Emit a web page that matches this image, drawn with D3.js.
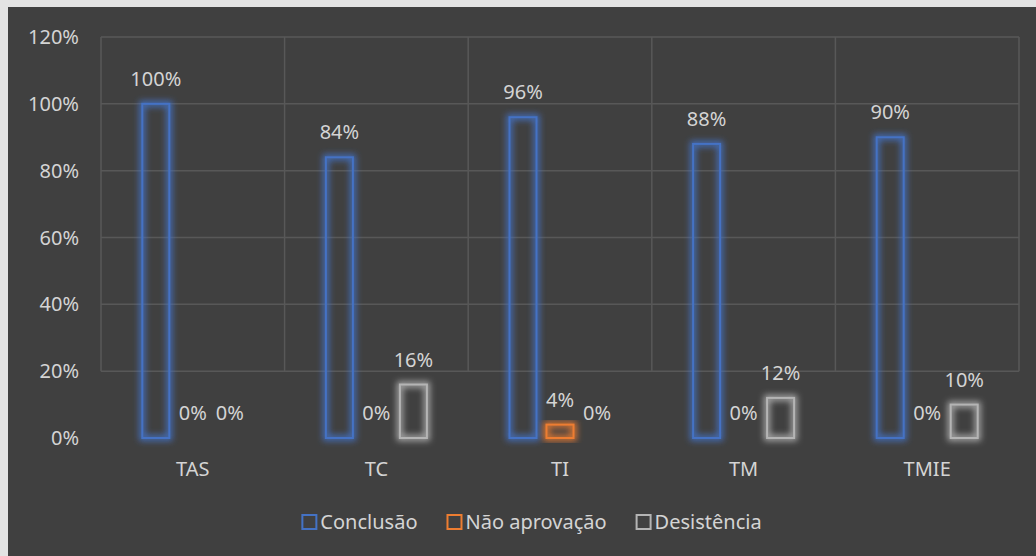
<!DOCTYPE html>
<html>
<head>
<meta charset="utf-8">
<script src="https://cdn.jsdelivr.net/npm/d3@7"></script>
<style>
  body { margin: 0; background: #e3e3e3; }
  svg { display: block; }
  text { font-family: "Noto Sans", "Open Sans", sans-serif; fill: #d4d4d4; }
</style>
</head>
<body>
<svg id="chart" width="1036" height="556"></svg>
<script>
const categories = ["TAS", "TC", "TI", "TM", "TMIE"];
const seriesNames = ["Conclusão", "Não aprovação", "Desistência"];
const conclusao = [100, 84, 96, 88, 90];
const naoAprovacao = [0, 0, 4, 0, 0];
const desistencia = [0, 16, 0, 12, 10];
const yTicks = [0, 20, 40, 60, 80, 100, 120];

const seriesValues = [conclusao, naoAprovacao, desistencia];
const colors = ["#4472c4", "#ed7d31", "#b4b4b4"];

const W = 1036, H = 556;
const margin = { top: 37, right: 17, bottom: 118, left: 101 };
const fontSize = 20;

const svg = d3.select("#chart");

// dark chart area (light strip left/top shows through)
svg.append("rect")
    .attr("x", 8).attr("y", 7)
    .attr("width", W - 8).attr("height", H - 7)
    .attr("fill", "#404040");

// soft glow round the bar outlines
const defs = svg.append("defs");
const glow = defs.append("filter")
    .attr("id", "glow")
    .attr("x", "-80%").attr("y", "-30%")
    .attr("width", "260%").attr("height", "160%");
glow.append("feMorphology")
    .attr("in", "SourceGraphic")
    .attr("operator", "dilate")
    .attr("radius", 2)
    .attr("result", "thick");
glow.append("feGaussianBlur")
    .attr("in", "thick")
    .attr("stdDeviation", 3)
    .attr("result", "blur");
glow.append("feComponentTransfer")
    .attr("in", "blur").attr("result", "soft")
    .append("feFuncA").attr("type", "linear").attr("slope", 0.9);
const merge = glow.append("feMerge");
merge.append("feMergeNode").attr("in", "soft");
merge.append("feMergeNode").attr("in", "SourceGraphic");

const x0 = d3.scaleBand()
    .domain(categories)
    .range([margin.left, W - margin.right]);

const groupWidth = 101;
const x1 = d3.scaleBand()
    .domain(seriesNames)
    .range([(x0.bandwidth() - groupWidth) / 2, (x0.bandwidth() + groupWidth) / 2])
    .paddingInner(0.27);

const y = d3.scaleLinear()
    .domain([0, 120])
    .range([438, margin.top]);

// gridlines
const grid = svg.append("g").attr("stroke", "#585858").attr("stroke-width", 1.5);
grid.selectAll("line.h")
    .data(yTicks.filter(d => d > 0))
    .join("line")
    .attr("x1", margin.left).attr("x2", W - margin.right)
    .attr("y1", d => y(d)).attr("y2", d => y(d));

const vLines = categories.map(c => x0(c)).concat([W - margin.right]);
grid.selectAll("line.v")
    .data(vLines)
    .join("line")
    .attr("x1", d => d).attr("x2", d => d)
    .attr("y1", y(120)).attr("y2", y(20));

// y axis labels
svg.append("g")
    .selectAll("text")
    .data(yTicks)
    .join("text")
    .attr("x", 79)
    .attr("y", d => y(d))
    .attr("dy", "0.35em")
    .attr("text-anchor", "end")
    .style("font-size", fontSize + "px")
    .text(d => d + "%");

// x axis labels
svg.append("g")
    .selectAll("text")
    .data(categories)
    .join("text")
    .attr("x", d => x0(d) + x0.bandwidth() / 2)
    .attr("y", 469)
    .attr("dy", "0.35em")
    .attr("text-anchor", "middle")
    .style("font-size", fontSize + "px")
    .text(d => d);

// bars
const rows = [];
categories.forEach((c, i) => {
    seriesNames.forEach((s, j) => {
        rows.push({ cat: c, series: s, value: seriesValues[j][i], color: colors[j] });
    });
});

const bars = svg.append("g");
bars.selectAll("rect")
    .data(rows.filter(d => d.value > 0))
    .join("rect")
    .attr("x", d => x0(d.cat) + x1(d.series))
    .attr("y", d => y(d.value))
    .attr("width", x1.bandwidth())
    .attr("height", d => y(0) - y(d.value))
    .attr("fill", "none")
    .attr("stroke", d => d.color)
    .attr("stroke-width", 2)
    .attr("filter", "url(#glow)");

svg.append("g")
    .selectAll("text")
    .data(rows)
    .join("text")
    .attr("x", d => x0(d.cat) + x1(d.series) + x1.bandwidth() / 2)
    .attr("y", d => y(d.value) - 18)
    .attr("text-anchor", "middle")
    .style("font-size", fontSize + "px")
    .text(d => d.value + "%");

// legend
const legend = svg.append("g");
const items = legend.selectAll("g")
    .data(seriesNames)
    .join("g");
items.append("rect")
    .attr("width", 14).attr("height", 14)
    .attr("y", -7)
    .attr("fill", "none")
    .attr("stroke", (d, i) => colors[i])
    .attr("stroke-width", 2);
items.append("text")
    .attr("x", 18)
    .attr("dy", "0.35em")
    .style("font-size", fontSize + "px")
    .text(d => d);

let widths = [];
items.each(function () { widths.push(this.getBBox().width); });
const gap = 30;
const total = d3.sum(widths) + gap * (widths.length - 1);
let lx = 532 - total / 2;
items.each(function (d, i) {
    d3.select(this).attr("transform", `translate(${lx},522)`);
    lx += widths[i] + gap;
});
</script>
</body>
</html>
